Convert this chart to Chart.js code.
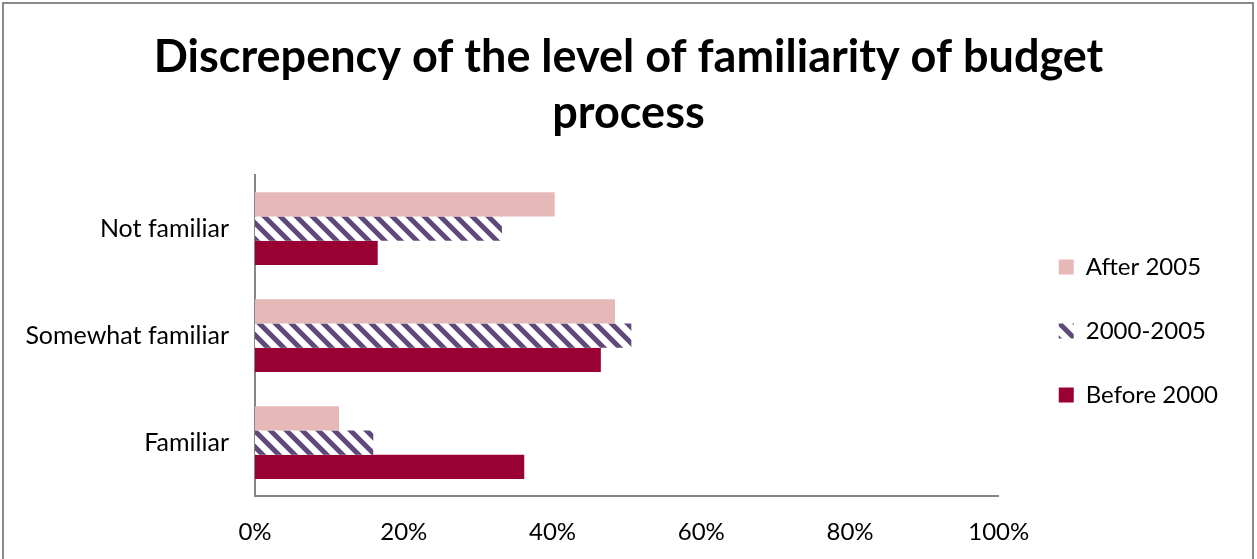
<!DOCTYPE html>
<html>
<head>
<meta charset="utf-8">
<script src="https://cdn.jsdelivr.net/npm/chart.js@4/dist/chart.umd.min.js"></script>
<style>
  html, body { margin: 0; padding: 0; background: #fff; overflow: hidden; }
  #wrap { position: relative; width: 1257px; height: 559px; }
  #frame { position: absolute; left: 2px; top: 2px; width: 1252px; height: 620px;
           border: 2px solid #8a8a8a; box-sizing: border-box; pointer-events: none; }
</style>
</head>
<body>
<div id="wrap">
  <canvas id="c" width="1257" height="559"></canvas>
  <div id="frame"></div>
</div>
<script>
// データ
var categories = ['Not familiar', 'Somewhat familiar', 'Familiar'];
var seriesNames = ['After 2005', '2000-2005', 'Before 2000'];
var after2005  = [40.3, 48.4, 11.3];
var mid2000s   = [33.2, 50.6, 15.9];
var before2000 = [16.5, 46.5, 36.2];
var xTicks = [0, 20, 40, 60, 80, 100];

// 斜線パターン（2000-2005）
function hatch() {
  var c = document.createElement('canvas');
  c.width = 16; c.height = 16;
  var g = c.getContext('2d');
  g.fillStyle = '#ffffff';
  g.fillRect(0, 0, 16, 16);
  g.strokeStyle = '#5f497a';
  g.lineWidth = 5;
  g.beginPath();
  g.moveTo(-8, -8); g.lineTo(24, 24);
  g.moveTo(8, -8);  g.lineTo(24, 8);
  g.moveTo(-8, 8);  g.lineTo(8, 24);
  g.stroke();
  return g.createPattern(c, 'repeat');
}

// 凡例の幅を少し広げる（タイトルの中央揃えに影響させない）
var legendWidth = {
  id: 'legendWidth',
  beforeLayout: function(chart) {
    var lg = chart.legend;
    if (!lg || lg._wide) return;
    var fit = lg.fit;
    lg.fit = function() { fit.call(this); this.width += 29; };
    lg._wide = true;
  }
};

Chart.defaults.font.family = 'Lato, "Open Sans", sans-serif';
Chart.defaults.color = '#000';

var ctx = document.getElementById('c').getContext('2d');
new Chart(ctx, {
  type: 'bar',
  data: {
    labels: categories,
    datasets: [
      { label: seriesNames[0], data: after2005,  backgroundColor: '#e6b9b8', borderWidth: 0 },
      { label: seriesNames[1], data: mid2000s,   backgroundColor: hatch(),   borderWidth: 0 },
      { label: seriesNames[2], data: before2000, backgroundColor: '#990033', borderWidth: 0 }
    ]
  },
  plugins: [legendWidth],
  options: {
    indexAxis: 'y',
    responsive: false,
    animation: false,
    datasets: { bar: { categoryPercentage: 0.68, barPercentage: 1 } },
    layout: { padding: { left: 0, right: 0, top: 0, bottom: 17 } },
    plugins: {
      title: {
        display: true,
        text: ['Discrepency of the level of familiarity of budget', 'process'],
        font: { size: 45, weight: 'bold', lineHeight: 1.245 },
        padding: { top: 29, bottom: 34 },
        color: '#000'
      },
      legend: {
        position: 'right',
        align: 'start',
        title: { display: true, text: ' ', font: { size: 10 }, padding: { top: 203, bottom: 0 } },
        labels: { boxWidth: 15, boxHeight: 15, padding: 40, font: { size: 24 }, color: '#000' }
      },
      tooltip: { enabled: false }
    },
    scales: {
      x: {
        min: 0, max: 100,
        afterBuildTicks: function(s) { s.ticks = xTicks.map(function(v) { return { value: v }; }); },
        ticks: { padding: 22, font: { size: 24 }, callback: function(v) { return v + '%'; } },
        grid: { display: false, drawTicks: false },
        border: { display: true, color: '#868686', width: 2 },
        afterFit: function(s) { s.height = 46; }
      },
      y: {
        ticks: { padding: 26, font: { size: 25 } },
        grid: { display: false, drawTicks: false },
        border: { display: true, color: '#868686', width: 2 },
        afterFit: function(s) { s.width = 255; }
      },
      gap: {
        type: 'linear', position: 'right', display: true,
        ticks: { display: false },
        grid: { display: false, drawTicks: false },
        border: { display: false },
        afterFit: function(s) { s.width = 20; }
      }
    }
  }
});
</script>
</body>
</html>
